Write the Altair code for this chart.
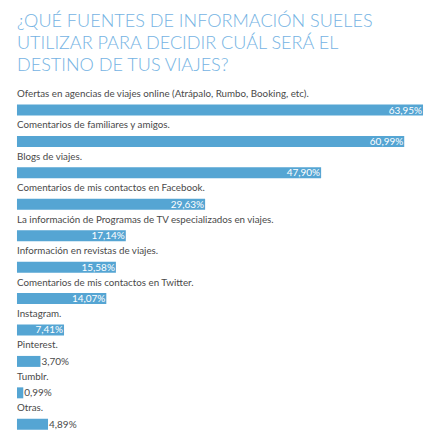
import pandas as pd
import altair as alt

fuentes = [
    "Ofertas en agencias de viajes online (Atrápalo, Rumbo, Booking, etc).",
    "Comentarios de familiares y amigos.",
    "Blogs de viajes.",
    "Comentarios de mis contactos en Facebook.",
    "La información de Programas de TV especializados en viajes.",
    "Información en revistas de viajes.",
    "Comentarios de mis contactos en Twitter.",
    "Instagram.",
    "Pinterest.",
    "Tumblr.",
    "Otras.",
]
porcentajes = [63.95, 60.99, 47.90, 29.63, 17.14, 15.58, 14.07, 7.41, 3.70, 0.99, 4.89]
etiquetas = ["63,95%", "60,99%", "47,90%", "29,63%", "17,14%", "15,58%",
             "14,07%", "7,41%", "3,70%", "0,99%", "4,89%"]

df = pd.DataFrame({"fuente": fuentes, "pct": porcentajes, "txt": etiquetas})
df["dentro"] = df["pct"] >= 7

azul = "#55a5d3"
gris = "#4a4a4a"
fuente_txt = "Lato"

y = alt.Y("fuente:N", sort=fuentes, axis=None,
          scale=alt.Scale(paddingInner=0, paddingOuter=0))
x = alt.X("pct:Q", axis=None, scale=alt.Scale(domain=[0, 63.95], nice=False))

base = alt.Chart(df).encode(y=y)

barras = base.mark_bar(color=azul, size=11, yOffset=8).encode(x=x)

nombres = base.mark_text(align="left", baseline="middle", dy=-8, fontSize=9.8,
                         font=fuente_txt, color=gris).encode(
    x=alt.value(0), text="fuente:N")

dentro = base.transform_filter("datum.dentro").mark_text(
    align="right", baseline="middle", dy=8.5, dx=-1, fontSize=10,
    font=fuente_txt, color="white").encode(x=x, text="txt:N")

fuera = base.transform_filter("!datum.dentro").mark_text(
    align="left", baseline="middle", dy=8.5, dx=1, fontSize=10,
    font=fuente_txt, color=gris).encode(x=x, text="txt:N")

chart = alt.layer(barras, nombres, dentro, fuera).properties(
    width=407,
    height=346.5,
    autosize=alt.AutoSizeParams(type="none"),
    padding={"left": 9, "top": 78, "right": 10, "bottom": 0},
    title=alt.TitleParams(
        ["¿QUÉ FUENTES DE INFORMACIÓN SUELES",
         "UTILIZAR PARA DECIDIR CUÁL SERÁ EL",
         "DESTINO DE TUS VIAJES?"],
        anchor="start", fontSize=18.1, fontWeight=300,
        font="'Lato Light', 'Lato', sans-serif",
        color="#74b3e3", lineHeight=22, offset=11,
    ),
).configure_view(stroke=None)

chart.save("out.html", embed_options={"renderer": "svg", "actions": False})
